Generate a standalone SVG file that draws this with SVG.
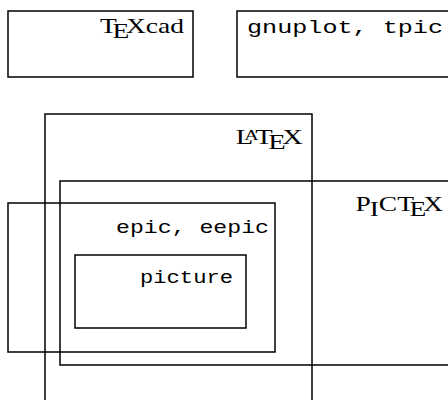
<svg xmlns="http://www.w3.org/2000/svg" width="448" height="400" viewBox="0 0 448 400">
<style>
  .box { fill: none; stroke: #000; stroke-width: 1.5; }
  .rm { font-family: "Liberation Serif", serif; font-size: 22px; fill: #000; }
  .tt { font-family: "Liberation Mono", monospace; font-size: 19px; fill: #000; }
</style>
<rect width="448" height="400" fill="#fff"/>
<g id="texcad">
  <rect class="box" x="8" y="11" width="185" height="66"/>
  <text class="rm" text-anchor="end" transform="translate(184,33) scale(1.25,1)"><tspan>T</tspan><tspan dx="-3.5" dy="4.8">E</tspan><tspan dx="-2.6" dy="-4.8">X</tspan><tspan>cad</tspan></text>
</g>
<g id="gnuplot">
  <rect class="box" x="237" y="11" width="230" height="66"/>
  <text class="tt" x="247" y="33" textLength="196" lengthAdjust="spacingAndGlyphs">gnuplot, tpic</text>
</g>
<g id="latex">
  <rect class="box" x="45" y="114" width="267" height="300"/>
  <text class="rm" text-anchor="end" transform="translate(303,144) scale(1.3,1)"><tspan>L</tspan><tspan dx="-7" dy="-4.4" font-size="15.4">A</tspan><tspan dx="-2.5" dy="4.4">T</tspan><tspan dx="-3.5" dy="4.8">E</tspan><tspan dx="-2.6" dy="-4.8">X</tspan></text>
</g>
<g id="pictex">
  <rect class="box" x="60" y="181" width="410" height="184"/>
  <text class="rm" text-anchor="end" transform="translate(443,211) scale(1.25,1)"><tspan>P</tspan><tspan dx="-1" dy="4.8">I</tspan><tspan dy="-4.8">C</tspan><tspan>T</tspan><tspan dx="-3.5" dy="4.8">E</tspan><tspan dx="-2.6" dy="-4.8">X</tspan></text>
</g>
<g id="epic">
  <rect class="box" x="8" y="203" width="267" height="149"/>
  <text class="tt" x="116" y="233" textLength="153" lengthAdjust="spacingAndGlyphs">epic, eepic</text>
</g>
<g id="picture">
  <rect class="box" x="75" y="255" width="171" height="73"/>
  <text class="tt" x="140" y="283" textLength="93" lengthAdjust="spacingAndGlyphs">picture</text>
</g>
<g id="connectors"/>
</svg>
